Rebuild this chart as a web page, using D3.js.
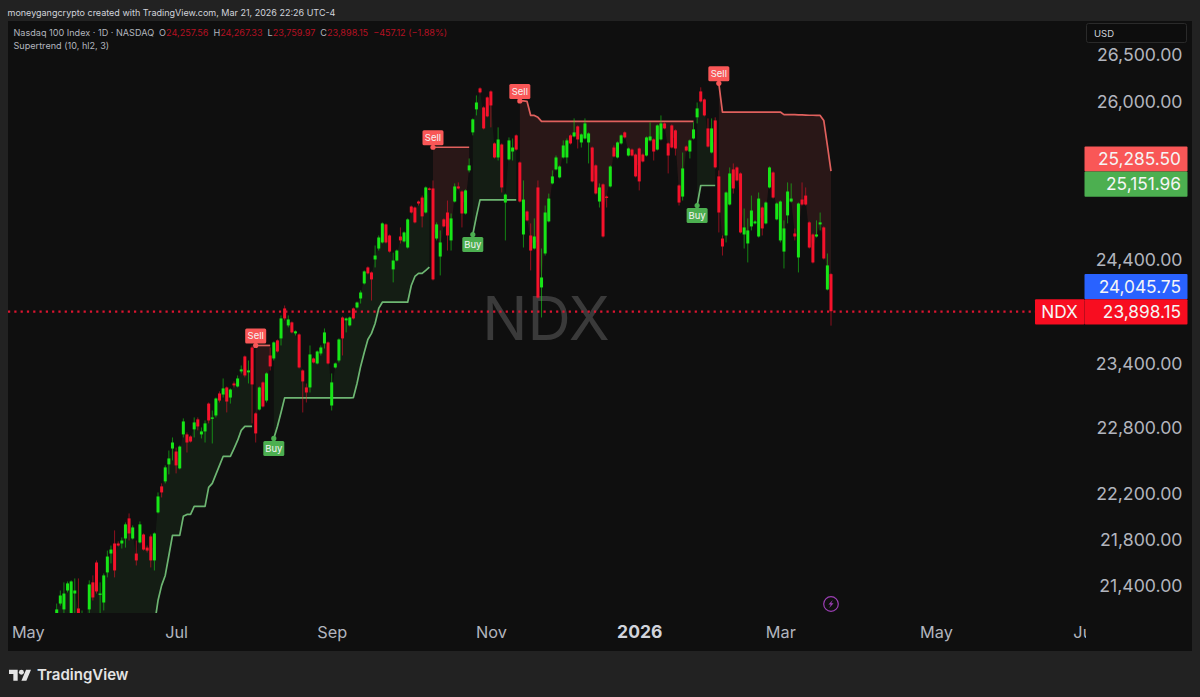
<!DOCTYPE html>
<html>
<head>
<meta charset="utf-8">
<title>NDX</title>
<script src="https://cdn.jsdelivr.net/npm/d3@7"></script>
<style>
html, body { margin: 0; padding: 0; background: #222222; overflow: hidden; }
svg { display: block; font-family: Inter, "Liberation Sans", sans-serif; }
</style>
</head>
<body>
<div class="chart"></div>
<script>
// daily bars
const opens = [
21152,21245,21195,21357,21135,21331,21203,21101,21126,21195,
21427,21599,21323,21254,21513,21677,21765,21765,21765,21809,
21986,21809,21677,21774,21844,21729,21827,21617,22039,22271,
22316,22469,22613,22586,22433,22742,22742,22723,22788,22880,
22742,22769,23026,22889,22916,23120,23110,23176,23082,23213,
23185,23326,23467,23317,23552,22935,22971,23223,23054,23476,
23448,23619,23638,23925,23762,23791,23686,23676,23335,23176,
23176,23448,23401,23495,23590,23600,23008,23363,23429,23838,
23810,23762,23925,23934,24021,24167,24323,24274,24401,24509,
24569,24748,24638,24304,24391,24628,24579,24519,24927,24917,
24977,25017,24867,25109,25109,24608,24430,24798,24867,24589,
24977,25129,25078,24857,25292,25682,25921,26141,25941,26046,
26109,25568,25424,25557,24967,25404,25485,25651,25373,24648,
24877,24638,24509,25119,24128,24460,24778,25160,25302,25221,
25424,25424,25651,25640,25744,25578,25619,25578,25526,25343,
24977,25150,25027,25129,25526,25424,25568,25682,25444,25505,
25454,25516,25454,25444,25599,25609,25505,25609,25775,25568,
25754,25703,25139,25027,25536,25485,25619,25838,26109,26025,
25723,25475,25806,25231,24608,24638,24947,25302,25322,25261,
24648,24559,24728,24758,24628,24917,24758,25119,25271,24798,
24589,24479,24838,24977,24658,24421,24997,25037,24768,24648,
24628,24748,24718,24108,24257.56];
const highs = [
21245,21357,21427,21435,21444,21461,21461,21186,21143,21444,
21487,21617,21427,21504,21703,21747,21880,21783,21818,21950,
22030,21924,21791,21959,21853,21747,21844,21862,22217,22298,
22460,22595,22714,22622,22641,22889,22760,22733,22898,22898,
22806,22870,23036,22962,23082,23139,23260,23185,23167,23232,
23288,23382,23476,23429,23571,22944,23185,23232,23317,23552,
23609,23628,23858,23953,23858,23800,23714,23686,23345,23213,
23571,23457,23523,23571,23733,23609,23307,23410,23638,23848,
23838,23848,23934,23991,24099,24294,24333,24284,24539,24638,
24768,24758,24648,24469,24499,24718,24678,24808,24937,24927,
24987,25037,25129,25119,25190,24768,24688,24808,24987,24857,
25160,25170,25089,25099,25414,25827,26067,26152,25952,26056,
26120,25578,25734,25568,25057,25630,25619,25661,25383,25190,
24887,24758,24808,25190,24509,24937,25057,25292,25444,25343,
25599,25619,25661,25827,25754,25671,25827,25682,25536,25353,
25160,25160,25037,25343,25547,25588,25661,25692,25526,25516,
25465,25526,25465,25640,25786,25619,25765,25858,25786,25578,
25765,25713,25150,25475,25547,25609,25786,25993,26152,26035,
25827,25827,25838,25292,24638,25078,25322,25363,25332,25271,
24907,24808,25037,24788,25068,24927,24977,25332,25282,24967,
24987,24788,25170,25160,24708,24967,25170,25119,24778,24658,
24788,24867,24728,24460,24267.33];
const lows = [
21143,21228,21160,21340,21118,21160,21118,21084,21060,21160,
21271,21331,21160,21186,21470,21591,21470,21738,21721,21729,
21791,21800,21573,21765,21703,21686,21556,21530,22030,22172,
22298,22379,22505,22388,22424,22714,22577,22668,22714,22779,
22705,22668,22843,22659,22898,23036,23082,22944,23026,23176,
23176,23307,23270,23213,22843,22668,22962,22990,23036,23335,
23429,23504,23571,23810,23743,23686,23666,23354,22944,23036,
23129,23401,23392,23476,23542,23392,22962,23354,23410,23476,
23695,23752,23819,23925,23972,24157,24255,24001,24323,24489,
24559,24559,24469,24177,24382,24559,24569,24509,24857,24758,
24937,24718,24857,25089,24196,24589,24245,24718,24489,24489,
24967,25099,24718,24847,25271,25651,25858,26088,25713,25838,
25734,25414,25393,25068,24589,25393,25393,25495,24967,24519,
24778,24294,24499,24021,23838,24440,24768,25150,25292,25211,
25414,25363,25557,25630,25516,25526,25609,25363,25170,25047,
24917,24618,24917,25119,25424,25414,25557,25619,25434,25434,
25221,25089,25373,25434,25588,25393,25495,25599,25713,25261,
25516,25444,24937,24987,25485,25414,25609,25775,25993,25848,
25526,25465,25312,24668,24440,24569,24937,25057,25180,24658,
24509,24372,24688,24748,24618,24638,24748,25109,25007,24788,
24569,24313,24758,24967,24589,24274,24937,24937,24509,24362,
24618,24688,24401,24099,23759.97];
const closes = [
21195,21314,21331,21418,21435,21357,21135,21135,21084,21409,
21297,21349,21331,21487,21651,21712,21530,21747,21791,21933,
21853,21906,21617,21933,21712,21703,21617,21853,22181,22217,
22442,22523,22668,22460,22631,22861,22668,22677,22852,22815,
22769,22843,22870,22898,23073,23054,23167,23045,23157,23195,
23260,23345,23288,23335,23204,22751,23176,22999,23307,23373,
23600,23514,23829,23829,23819,23695,23705,23363,23232,23129,
23486,23410,23514,23552,23695,23401,23223,23401,23628,23638,
23829,23838,23829,23982,24079,24284,24265,24206,24440,24618,
24758,24569,24479,24391,24489,24589,24668,24798,24867,24768,
24957,24828,25119,25099,24206,24748,24569,24728,24638,24808,
25129,25109,24857,25089,25343,25817,25993,26099,25723,25848,
25962,25424,25609,25119,25047,25599,25526,25505,24977,24997,
24788,24489,24628,24030,24225,24867,25007,25231,25424,25332,
25547,25599,25568,25682,25609,25661,25775,25671,25180,25058,
25119,24628,25017,25332,25434,25578,25651,25630,25516,25444,
25231,25180,25383,25630,25640,25485,25754,25775,25723,25444,
25526,25516,24967,25312,25495,25599,25713,25931,26004,25858,
25536,25723,25323,24867,24529,25068,25261,25109,25190,24668,
24718,24688,24887,24778,25007,24708,24967,25322,25017,24957,
24977,24708,25078,25007,24628,24957,24947,24947,24519,24372,
24648,24768,24411,24343,23898.15];
const supertrend = [
20510,20510,20510,20560,20560,20560,20610,20610,20610,20650,
20650,20650,20700,20700,20740,20740,20780,20780,20820,20820,
20860,20900,20900,20940,20940,20980,21020,21060,21271,21401,
21487,21660,21836,21836,21836,22004,22021,22021,22092,22092,
22092,22092,22262,22298,22379,22460,22541,22541,22541,22613,
22687,22779,22815,22815,22815,23571,23571,23571,23571,23571,
22705,22815,22944,23079,23079,23079,23079,23079,23079,23079,
23079,23079,23079,23079,23079,23079,23079,23079,23079,23079,
23079,23079,23082,23213,23373,23504,23628,23686,23781,23925,
23985,23985,23985,23985,23985,23985,23985,23985,24147,24235,
24265,24265,24294,24326,25529,25529,25529,25529,25529,25529,
25529,25529,25529,25529,25529,24648,24828,24994,24994,24994,
24994,24994,24994,24994,24994,24994,24994,24994,26009,26009,
26004,25858,25858,25838,25796,25796,25796,25796,25796,25796,
25796,25796,25796,25796,25796,25796,25796,25796,25796,25796,
25796,25796,25796,25796,25796,25796,25796,25796,25796,25796,
25796,25796,25796,25796,25796,25796,25796,25796,25796,25796,
25796,25796,25796,25796,25796,25796,25796,24937,25139,25139,
25139,25139,25139,26194,25893,25893,25893,25893,25893,25893,
25893,25893,25893,25893,25893,25893,25893,25893,25893,25893,
25893,25866,25866,25866,25866,25864,25864,25862,25860,25860,
25858,25858,25806,25547,25285.5];
// bar numbers where the supertrend flips
const sellBars = [55,104,128,183];
const buyBars = [60,115,177];

const priceTicks = [26500,26000,24400,23400,22800,22200,21800,21400];
const monthLabels = ["May","Jul","Sep","Nov","2026","Mar","May","Jul"];
const monthBars = [-8,33,76,120,161,200,243,284];
const lastPrice = 23898.15;
const sideValues = [25285.50,25151.96,24045.75,23898.15];
const sideKinds = ["sell","buy","prev","last"];
const legendValues = ["24,257.56","24,267.33","23,759.97","23,898.15"];
const legendKeys = ["O","H","L","C"];

const bg_outer = "#222222", bg_pane = "#0f0f0f", grid_color = "#161616";
const up_color = "#17e617", down_color = "#f5122b";
const buy_color = "#4caf50", sell_color = "#f95757";
const buy_line = "#6db672", sell_line = "#e0605d";
const text_color = "#b2b5be";

const svg_width = 1200, svg_height = 697;
const pane = {left:8, top:21, right:1192, bottom:651, plotRight:1086, plotBottom:613};

const svg = d3.select(".chart").append("svg")
    .attr("width", svg_width).attr("height", svg_height);

svg.append("rect").attr("width", svg_width).attr("height", svg_height).attr("fill", bg_outer);
svg.append("rect")
    .attr("x", pane.left).attr("y", pane.top)
    .attr("width", pane.right - pane.left).attr("height", pane.bottom - pane.top)
    .attr("fill", bg_pane);

const defs = svg.append("defs");
defs.append("clipPath").attr("id","plot-clip").append("rect")
    .attr("x", pane.left).attr("y", pane.top)
    .attr("width", pane.plotRight - pane.left).attr("height", pane.plotBottom - pane.top);
defs.append("clipPath").attr("id","month-clip").append("rect")
    .attr("x", pane.left).attr("y", pane.plotBottom)
    .attr("width", pane.plotRight - pane.left).attr("height", pane.bottom - pane.plotBottom);

const bars = opens.map((d,i) => ({i:i, open:d, high:highs[i], low:lows[i], close:closes[i], st:supertrend[i]}));

const xScale = d3.scaleLinear().domain([0, bars.length - 1]).range([56.7, 831]);
const yScale = d3.scaleLog().domain([26500, 21400]).range([54.5, 585.5]);

// grid
const gridX = svg.append("g").attr("clip-path","url(#plot-clip)")
    .attr("transform",`translate(0,${pane.plotBottom})`)
    .call(d3.axisBottom(xScale).tickValues(monthBars).tickSize(-(pane.plotBottom - pane.top)).tickFormat(""));
gridX.select(".domain").remove();
gridX.selectAll("line").attr("stroke", grid_color);
const gridY = svg.append("g").attr("clip-path","url(#plot-clip)")
    .attr("transform",`translate(${pane.plotRight},0)`)
    .call(d3.axisLeft(yScale).tickValues(priceTicks).tickSize(pane.plotRight - pane.left).tickFormat(""));
gridY.select(".domain").remove();
gridY.selectAll("line").attr("stroke", grid_color);

// watermark
svg.append("text")
    .attr("x", 546).attr("y", 340)
    .attr("text-anchor","middle")
    .attr("font-size", 60)
    .attr("fill", "#3a3a3a")
    .text("NDX");

const plot = svg.append("g").attr("clip-path","url(#plot-clip)");

// supertrend runs between the flips
const flips = sellBars.map(d => ({at:d, kind:"sell"})).concat(buyBars.map(d => ({at:d, kind:"buy"})))
    .sort((a,b) => a.at - b.at);
const runs = [{from:0, to:flips[0].at - 1, kind:"buy"}];
flips.forEach((f,k) => {
    const end = k < flips.length - 1 ? flips[k + 1].at - 1 : bars.length - 1;
    runs.push({from:f.at, to:end, kind:f.kind});
});

const bodyMid = d => (d.open + d.close) / 2;
const stArea = d3.area().x(d => xScale(d.i)).y0(d => yScale(bodyMid(d))).y1(d => yScale(d.st));
const stLine = d3.line().x(d => xScale(d.i)).y(d => yScale(d.st));

plot.selectAll(".st-fill").data(runs).enter().append("path")
    .attr("class","st-fill")
    .attr("d", r => stArea(bars.slice(r.from, r.to + 1)))
    .attr("fill", r => r.kind === "buy" ? buy_color : sell_color)
    .attr("fill-opacity", r => r.kind === "buy" ? 0.09 : 0.115);

plot.selectAll(".st-line").data(runs).enter().append("path")
    .attr("class","st-line")
    .attr("d", r => stLine(bars.slice(r.from, r.to + 1)))
    .attr("fill","none")
    .attr("stroke", r => r.kind === "buy" ? buy_line : sell_line)
    .attr("stroke-width", 1.7)
    .attr("stroke-linejoin","round");

// candles
const candleColor = d => d.close >= d.open ? up_color : down_color;
plot.selectAll(".wick").data(bars).enter().append("line")
    .attr("class","wick")
    .attr("x1", d => xScale(d.i)).attr("x2", d => xScale(d.i))
    .attr("y1", d => yScale(d.high)).attr("y2", d => yScale(d.low))
    .attr("stroke", candleColor)
    .attr("stroke-opacity", 0.55)
    .attr("stroke-width", 1);
plot.selectAll(".body").data(bars).enter().append("rect")
    .attr("class","body")
    .attr("x", d => xScale(d.i) - 1.5)
    .attr("width", 3)
    .attr("y", d => yScale(Math.max(d.open, d.close)))
    .attr("height", d => Math.max(1.4, Math.abs(yScale(d.open) - yScale(d.close))))
    .attr("fill", candleColor);

// last price line
svg.append("line")
    .attr("x1", pane.left).attr("x2", 1035)
    .attr("y1", yScale(lastPrice) + 0.5).attr("y2", yScale(lastPrice) + 0.5)
    .attr("stroke", "#dc1430")
    .attr("stroke-width", 2.2)
    .attr("stroke-dasharray","2.2 4.1");

// buy and sell tags
const tagData = flips.map(f => ({kind:f.kind, i:f.at, st:supertrend[f.at]}));
const tags = svg.selectAll(".tag").data(tagData).enter().append("g")
    .attr("class","tag")
    .attr("transform", d => `translate(${xScale(d.i)},${yScale(d.st)})`);
tags.append("circle")
    .attr("r", 2.6)
    .attr("fill", d => d.kind === "buy" ? buy_color : sell_color);
tags.append("rect")
    .attr("x", -10.5).attr("width", 21).attr("height", 15).attr("rx", 1.5)
    .attr("y", d => d.kind === "buy" ? 2.5 : -17)
    .attr("fill", d => d.kind === "buy" ? buy_color : sell_color);
tags.append("text")
    .attr("text-anchor","middle")
    .attr("y", d => d.kind === "buy" ? 13.5 : -6)
    .attr("font-size", 9.5)
    .attr("fill", "#f3f3f3")
    .text(d => d.kind === "buy" ? "Buy" : "Sell");

// axes
const yAxis = d3.axisRight(yScale)
    .tickValues(priceTicks)
    .tickFormat(d3.format(",.2f"))
    .tickSize(0);
const yAxisDraw = svg.append("g")
    .attr("transform","translate(1086,0)")
    .call(yAxis);
yAxisDraw.select(".domain").remove();
yAxisDraw.selectAll("text")
    .attr("x", 96.5)
    .attr("text-anchor","end")
    .attr("font-size", 17.7)
    .attr("font-family", "Inter")
    .attr("fill", text_color);

const xAxis = d3.axisBottom(xScale)
    .tickValues(monthBars)
    .tickFormat((d,i) => monthLabels[i])
    .tickSize(0);
const xAxisDraw = svg.append("g")
    .attr("clip-path","url(#month-clip)")
    .append("g")
    .attr("transform",`translate(0,${pane.plotBottom})`)
    .call(xAxis);
xAxisDraw.select(".domain").remove();
xAxisDraw.selectAll("text")
    .attr("y", 13)
    .attr("font-size", (d,i) => monthLabels[i] === "2026" ? 17.5 : 16.3)
    .attr("font-family", "Inter")
    .attr("font-weight", (d,i) => monthLabels[i] === "2026" ? 700 : 400)
    .attr("fill", (d,i) => monthLabels[i] === "2026" ? "#d1d4dc" : text_color);

// price tags on the right, pushed apart when they would overlap
const sideFill = {sell:sell_color, buy:buy_color, prev:"#2962ff", last:"#f80d20"};
const side_h = 25.2;
const sideCenters = [];
d3.range(sideValues.length - 1, -1, -1).forEach(k => {
    let c = yScale(sideValues[k]) + (k === sideValues.length - 1 ? 0.7 : 0);
    if (k < sideValues.length - 1) c = Math.min(c, sideCenters[k + 1] - side_h);
    sideCenters[k] = c;
});
const sideTags = svg.selectAll(".side").data(sideValues).enter().append("g")
    .attr("class","side")
    .attr("transform",(d,k) => `translate(0,${sideCenters[k]})`);
sideTags.append("rect")
    .attr("x", 1084.5).attr("y", -side_h / 2).attr("width", 103).attr("height", side_h).attr("rx", 1)
    .attr("fill",(d,k) => sideFill[sideKinds[k]]);
sideTags.append("text")
    .attr("x", 1181).attr("dy","0.35em")
    .attr("text-anchor","end")
    .attr("font-size", 17.3)
    .attr("fill","#f5f5f5")
    .text(d => d3.format(",.2f")(d));
svg.append("rect")
    .attr("x", 1035).attr("y", sideCenters[3] - side_h / 2)
    .attr("width", 49.5).attr("height", side_h).attr("rx", 1)
    .attr("fill", sideFill.last);
svg.append("text")
    .attr("x", 1059.5).attr("y", sideCenters[3]).attr("dy","0.35em")
    .attr("text-anchor","middle")
    .attr("font-size", 17.3)
    .attr("fill","#f5f5f5")
    .text("NDX");

// USD box
svg.append("rect")
    .attr("x", 1086.5).attr("y", 23.5).attr("width", 100).attr("height", 19).attr("rx", 2)
    .attr("fill", "#0d0d0d").attr("stroke", "#2a2a2a");
svg.append("text")
    .attr("x", 1094).attr("y", 36.5)
    .attr("font-size", 9.5)
    .attr("fill", "#d1d4dc")
    .text("USD");

// lightning button
const bolt = svg.append("g").attr("transform","translate(831,604)");
bolt.append("circle").attr("r", 7.3).attr("fill","none").attr("stroke","#9c3fb5").attr("stroke-width", 1.2);
bolt.append("path").attr("d","M1.8,-4 L-2.6,0.6 L-0.2,0.6 L-1.8,4 L2.6,-0.8 L0.2,-0.8 Z").attr("fill","#9c3fb5");

// header text
svg.append("text")
    .attr("x", 7.5).attr("y", 15.5)
    .attr("font-size", 9)
    .attr("fill", "#d1d4dc")
    .text("moneygangcrypto created with TradingView.com, Mar 21, 2026 22:26 UTC-4");

const legend = svg.append("text")
    .attr("x", 13.5).attr("y", 35.5)
    .attr("font-size", 9.1)
    .attr("fill", text_color);
legend.append("tspan").text("Nasdaq 100 Index · 1D · NASDAQ");
legendValues.forEach((v,k) => {
    legend.append("tspan").attr("dx", 5).text(legendKeys[k]);
    legend.append("tspan").attr("fill", "#b50f22").text(v);
});
legend.append("tspan").attr("dx", 5).attr("fill", "#b50f22").text("−457.12 (−1.88%)");
svg.append("text")
    .attr("x", 13.5).attr("y", 48.5)
    .attr("font-size", 9.1)
    .attr("fill", text_color)
    .text("Supertrend (10, hl2, 3)");

// logo
const logo = svg.append("g").attr("transform","translate(9,667.2) scale(0.62)").attr("fill","#e4e4e4");
logo.append("path").attr("d","M14 22H7V11H0V4h14v18zM28 22h-8l7.5-18h8L28 22z");
logo.append("circle").attr("cx",20).attr("cy",8).attr("r",4);
svg.append("text")
    .attr("x", 37).attr("y", 679.5)
    .attr("font-size", 15)
    .attr("font-weight", 600)
    .attr("fill", "#e4e4e4")
    .text("TradingView");
</script>
</body>
</html>
